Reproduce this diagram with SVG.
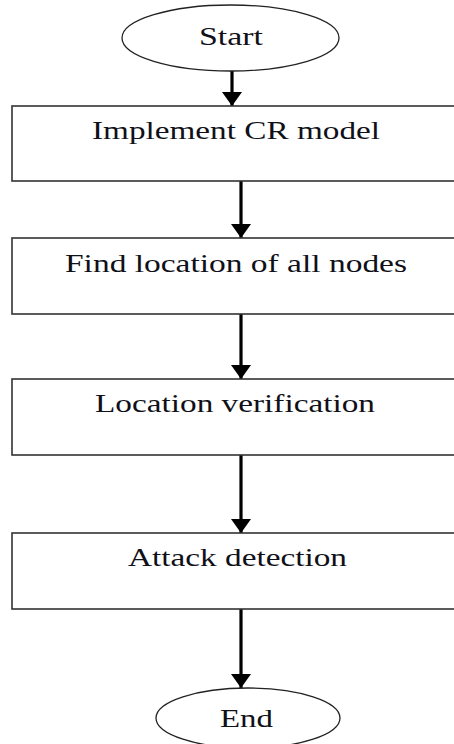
<svg xmlns="http://www.w3.org/2000/svg" width="454" height="744" viewBox="0 0 454 744">
  <style>
    .box { fill: #ffffff; stroke: #333333; stroke-width: 1.6; }
    .oval { fill: #ffffff; stroke: #222222; stroke-width: 1.3; }
    .lbl { font-family: "Liberation Serif", "Times New Roman", serif; font-size: 25px; fill: #101018; text-anchor: middle; }
    .conn { stroke: #000000; stroke-width: 3.2; fill: none; marker-end: url(#arr); }
  </style>
  <defs>
    <marker id="arr" markerUnits="userSpaceOnUse" markerWidth="15" markerHeight="20" refX="14" refY="10" orient="auto">
      <path d="M0,0 L14,10 L0,20 Z" fill="#000000"/>
    </marker>
  </defs>
  <rect width="454" height="744" fill="#ffffff"/>
  <g id="connectors">
    <line class="conn" x1="232" y1="71" x2="232" y2="106"/>
    <line class="conn" x1="241" y1="181" x2="241" y2="238"/>
    <line class="conn" x1="241" y1="314" x2="241" y2="379"/>
    <line class="conn" x1="241" y1="455" x2="241" y2="533"/>
    <line class="conn" x1="241" y1="609" x2="241" y2="688"/>
  </g>
  <g id="start">
    <ellipse class="oval" cx="230.5" cy="38" rx="108.5" ry="33"/>
    <text class="lbl" x="231" y="45" textLength="64" lengthAdjust="spacingAndGlyphs">Start</text>
  </g>
  <g id="implement">
    <rect class="box" x="12" y="106" width="452" height="75"/>
    <text class="lbl" x="236" y="139" textLength="288" lengthAdjust="spacingAndGlyphs">Implement CR model</text>
  </g>
  <g id="find">
    <rect class="box" x="12" y="238" width="452" height="76"/>
    <text class="lbl" x="236" y="272" textLength="342" lengthAdjust="spacingAndGlyphs">Find location of all nodes</text>
  </g>
  <g id="verify">
    <rect class="box" x="12" y="379" width="452" height="76"/>
    <text class="lbl" x="235" y="412" textLength="280" lengthAdjust="spacingAndGlyphs">Location verification</text>
  </g>
  <g id="attack">
    <rect class="box" x="12" y="533" width="452" height="76"/>
    <text class="lbl" x="237.5" y="566" textLength="219" lengthAdjust="spacingAndGlyphs">Attack detection</text>
  </g>
  <g id="end">
    <ellipse class="oval" cx="248" cy="718" rx="92" ry="30"/>
    <text class="lbl" x="246.5" y="727" textLength="53" lengthAdjust="spacingAndGlyphs">End</text>
  </g>
</svg>
